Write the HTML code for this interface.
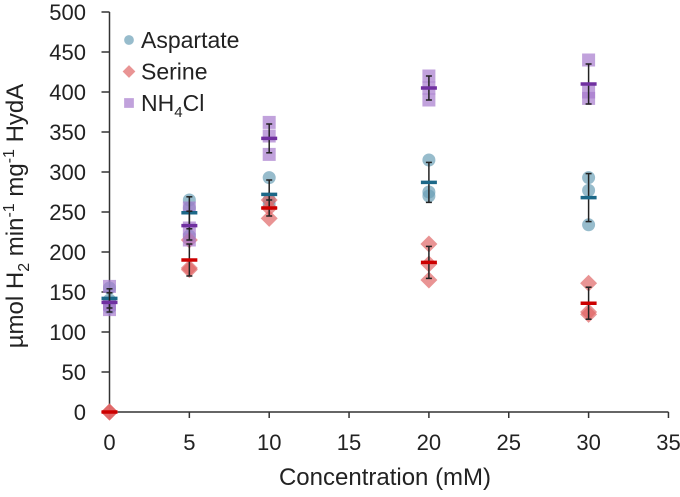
<!DOCTYPE html>
<html><head><meta charset="utf-8"><style>
body{margin:0;background:#fff;font-family:"Liberation Sans",Arial,sans-serif}
svg text{font-family:"Liberation Sans",Arial,sans-serif;fill:#222}
</style></head><body>
<svg id="c" width="680" height="492"></svg>
<script>
const xs=[0,5,10,20,30];
const aspPts=[[155,140,130],[265,255,220],[293,265,260],[315,275,270],[293,277,234]];
const serPts=[[0,0,0],[215,180,178],[265,255,242],[210,185,165],[161,125,122]];
const nhPts=[[157,135,128],[255,230,215],[362,345,322],[420,405,390],[440,400,392]];
const aspMean=[142,249,272,287,268];
const serMean=[0,190,255,187,136];
const nhMean=[137,233,342,405,410];
const aspErr=[12,20,18,25,30];
const serErr=[0,20,10,20,20];
const nhErr=[12,18,18,15,25];
const xTicks=[0,5,10,15,20,25,30,35];
const yTicks=[0,50,100,150,200,250,300,350,400,450,500];
const NS="http://www.w3.org/2000/svg";
const svg=document.getElementById('c');
const X=v=>109.5+v*15.97, Y=v=>412-v*0.8;
function mk(t,a,p){const e=document.createElementNS(NS,t);for(const k in a)e.setAttribute(k,a[k]);(p||svg).appendChild(e);return e;}
let ax=mk('line',{x1:X(0),y1:Y(0),x2:X(35),y2:Y(0),stroke:'#333','stroke-width':1.5});

let ay=mk('line',{x1:X(0),y1:Y(0),x2:X(0),y2:Y(500),stroke:'#333','stroke-width':1.5});

xTicks.forEach(t=>{mk('line',{x1:X(t),x2:X(t),y1:Y(0),y2:Y(0)+6,stroke:'#333','stroke-width':1.5});
 const l=mk('text',{x:X(t),y:450,'text-anchor':'middle','font-size':22});l.textContent=t;
 });
yTicks.forEach(t=>{mk('line',{x1:X(0)-8,x2:X(0),y1:Y(t),y2:Y(t),stroke:'#333','stroke-width':1.5});
 const l=mk('text',{x:86,y:Y(t)+8,'text-anchor':'end','font-size':22});l.textContent=t;
 });
let xt=mk('text',{x:385,y:485,'text-anchor':'middle','font-size':24});xt.textContent='Concentration (mM)';

let yt=mk('text',{x:0,y:0,'text-anchor':'middle','font-size':24,transform:'translate(23,216) rotate(-90)'});
yt.innerHTML='µmol H<tspan dy="6" font-size="16">2</tspan><tspan dy="-6"> min</tspan><tspan dy="-9" font-size="16">-1</tspan><tspan dy="9"> mg</tspan><tspan dy="-9" font-size="16">-1</tspan><tspan dy="9"> HydA</tspan>';

function marker(shape,cx,cy,col,g,sc){sc=sc||1;
 if(shape==='c')return mk('circle',{cx:cx,cy:cy,r:6.5*sc,fill:col,'fill-opacity':0.7},g);
 if(shape==='d')return mk('rect',{x:cx-6*sc,y:cy-6*sc,width:12*sc,height:12*sc,fill:col,'fill-opacity':0.7,transform:`rotate(45 ${cx} ${cy})`},g);
 return mk('rect',{x:cx-6.5*sc,y:cy-6.5*sc,width:13*sc,height:13*sc,fill:col,'fill-opacity':0.7},g);
}
const series=[
 {name:'aspartate',pts:aspPts,mean:aspMean,err:aspErr,shape:'c',col:'#6b9fb6',bar:'#1c6888'},
 {name:'serine',pts:serPts,mean:serMean,err:serErr,shape:'d',col:'#e06666',bar:'#cc0000'},
 {name:'nh4cl',pts:nhPts,mean:nhMean,err:nhErr,shape:'s',col:'#a77bcd',bar:'#7030a0'}];
series.forEach(s=>{
 const g=mk('g',{});
 xs.forEach((x,i)=>{s.pts[i].forEach(v=>{const m=marker(s.shape,X(x),Y(v),s.col,g);
   });});
});
series.forEach(s=>{
 xs.forEach((x,i)=>{const cx=X(x);
  if(s.err[i]>0){const e=mk('line',{x1:cx,x2:cx,y1:Y(s.mean[i]-s.err[i]),y2:Y(s.mean[i]+s.err[i]),stroke:'#222','stroke-width':1.5});
   
   [s.mean[i]-s.err[i],s.mean[i]+s.err[i]].forEach(v=>mk('line',{x1:cx-3,x2:cx+3,y1:Y(v),y2:Y(v),stroke:'#222','stroke-width':1.5}));}
  const m=mk('line',{x1:cx-8,x2:cx+8,y1:Y(s.mean[i]),y2:Y(s.mean[i]),stroke:s.bar,'stroke-width':3.5});
  });
});
const labels=['Aspartate','Serine','NH4Cl'];
series.forEach((s,i)=>{const y=40+i*31.5;
 const g=mk('g',{});
 marker(s.shape,129,y,s.col,g,0.75);
 const t=mk('text',{x:141,y:y+8,'font-size':23},g);
 if(i===2)t.innerHTML='NH<tspan dy="6" font-size="15">4</tspan><tspan dy="-6">Cl</tspan>';else t.textContent=labels[i];});
</script>
</body></html>
